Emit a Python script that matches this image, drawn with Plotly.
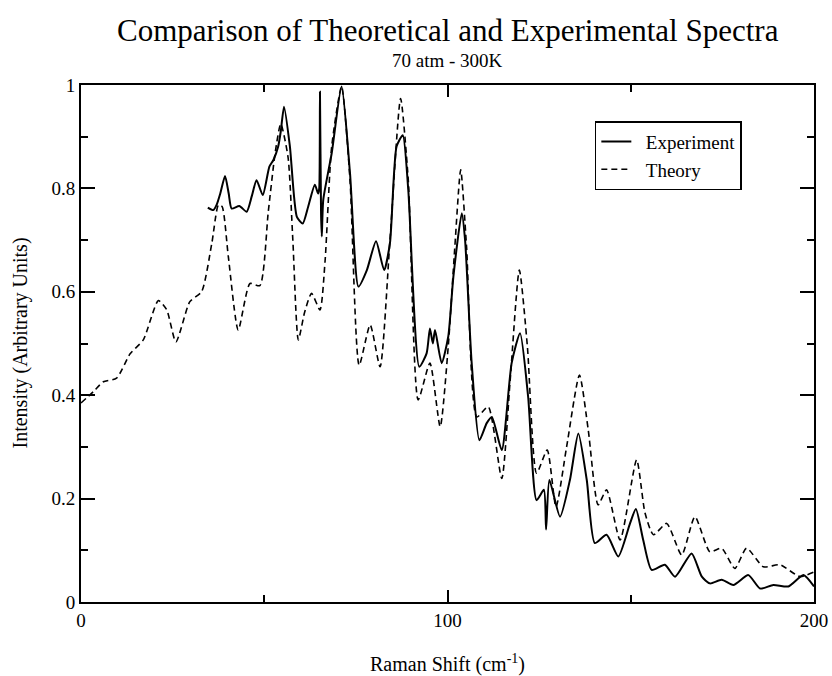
import plotly.graph_objects as go

# Raman shift (cm^-1) and intensity read for the two spectra
theory_x = [0, 3.4, 6.1, 9.7, 13.4, 17, 21.1, 23.4, 25.9, 29.7, 32.9, 35.7, 37.5, 38.5,
            40.2, 42.9, 46.1, 48.8, 51.1, 53.0, 54.5, 56.5, 57.8, 59.3, 61.0, 62.9, 65.2,
            66.6, 68.4, 71.1, 73.4, 75.9, 78.9, 81.6, 84.3, 87.2, 89.3, 92.0, 95.2, 98.0,
            100.2, 102.0, 103.6, 105.2, 108.0, 111.1, 114.8, 117.1, 119.6, 121.8, 124.3,
            127.2, 129.6, 132.5, 136.0, 138.4, 141.1, 143.4, 147.1, 151.6, 153.9, 156.2,
            159.8, 163.9, 167.5, 171.6, 174.8, 178.4, 181.6, 186.2, 190.7, 196.2, 200]
theory_y = [0.385, 0.407, 0.426, 0.433, 0.48, 0.507, 0.583, 0.565, 0.503, 0.581, 0.60, 0.694,
            0.768, 0.765, 0.668, 0.526, 0.616, 0.612, 0.755, 0.87, 0.925, 0.86, 0.70, 0.507,
            0.56, 0.597, 0.565, 0.66, 0.881, 0.997, 0.816, 0.458, 0.536, 0.455, 0.70, 0.974,
            0.816, 0.391, 0.462, 0.339, 0.494, 0.687, 0.836, 0.687, 0.358, 0.378, 0.239,
            0.429, 0.642, 0.494, 0.249, 0.294, 0.184, 0.30, 0.439, 0.333, 0.188, 0.217, 0.12,
            0.275, 0.172, 0.13, 0.152, 0.091, 0.165, 0.097, 0.104, 0.065, 0.104, 0.068,
            0.072, 0.049, 0.058]

exp_x = [34.6, 36.1, 37.0, 38.0, 39.3, 40.3, 41.1, 43.2, 45.2, 46.6, 47.9, 49.6, 51.4, 52.5,
         53.8, 54.5, 55.4, 57.0, 58.9, 60.5, 62.0, 63.8, 64.7, 65.0, 65.2, 65.5, 65.7, 66.1,
         68.4, 71.1, 73.4, 75.7, 78.0, 80.5, 82.7, 84.3, 86.1, 87.8, 89.3, 92.3, 94.3, 95.2,
         96.0, 96.6, 98.4, 100.2, 101.6, 103.9, 104.8, 106.6, 108.7, 110.7, 112.1, 114.8,
         117.5, 119.8, 122.0, 124.3, 126.3, 126.9, 127.8, 130.7, 133.4, 135.7, 138.0, 140.2,
         143.4, 146.6, 149.8, 151.4, 153.4, 155.7, 159.3, 162.1, 166.6, 169.4, 171.6, 174.8,
         178.0, 182.1, 185.3, 188.9, 193.0, 197.1, 200]
exp_y = [0.763, 0.758, 0.768, 0.79, 0.824, 0.79, 0.761, 0.766, 0.755, 0.785, 0.816, 0.787,
         0.842, 0.855, 0.881, 0.91, 0.958, 0.881, 0.745, 0.732, 0.765, 0.807, 0.79, 0.80,
         0.987, 0.75, 0.707, 0.778, 0.868, 0.997, 0.829, 0.61, 0.642, 0.698, 0.642, 0.694,
         0.881, 0.903, 0.797, 0.455, 0.481, 0.529, 0.50, 0.526, 0.462, 0.513, 0.629, 0.752,
         0.70, 0.462, 0.313, 0.346, 0.358, 0.294, 0.462, 0.52, 0.397, 0.197, 0.217, 0.14,
         0.236, 0.165, 0.236, 0.326, 0.236, 0.114, 0.13, 0.088, 0.152, 0.18, 0.12, 0.062,
         0.072, 0.049, 0.094, 0.049, 0.036, 0.043, 0.033, 0.052, 0.026, 0.033, 0.03, 0.052,
         0.03]

x_ticks = [0, 100, 200]
y_ticks = [0, 0.2, 0.4, 0.6, 0.8, 1]
y_tick_text = ["0", "0.2", "0.4", "0.6", "0.8", "1"]

FONT = "Liberation Serif"
PAD = "\u00a0\u00a0"  # small gap between legend line sample and its label

fig = go.Figure()
fig.add_trace(go.Scatter(
    x=exp_x, y=exp_y, name=PAD + "Experiment", mode="lines",
    line=dict(color="black", width=2, shape="spline", smoothing=0.6),
))
fig.add_trace(go.Scatter(
    x=theory_x, y=theory_y, name=PAD + "Theory", mode="lines",
    line=dict(color="black", width=1.6, dash="6px,4px", shape="spline", smoothing=0.6),
))

axis_common = dict(
    showline=True, linecolor="black", linewidth=2, mirror="allticks",
    ticks="inside", tickcolor="black", tickwidth=1.5,
    showgrid=False, zeroline=False, automargin=False,
    tickfont=dict(family=FONT, size=19, color="black"),
)

fig.update_xaxes(
    range=[0, 200], tickvals=x_ticks, ticklen=12,
    minor=dict(ticks="inside", dtick=50, ticklen=7, tickcolor="black", tickwidth=1.5,
               showgrid=False),
    **axis_common,
)
fig.update_yaxes(
    range=[0, 1], tickvals=y_ticks, ticktext=y_tick_text, ticklen=14,
    minor=dict(ticks="inside", dtick=0.1, ticklen=7, tickcolor="black", tickwidth=1.5,
               showgrid=False),
    **axis_common,
)

fig.update_layout(
    width=832, height=676,
    margin=dict(l=81, r=18, t=85, b=74, autoexpand=False),
    paper_bgcolor="white", plot_bgcolor="white",
    font=dict(family=FONT, color="black"),
    showlegend=True,
    legend=dict(
        x=0.701, y=0.93, xanchor="left", yanchor="top",
        bgcolor="white", bordercolor="black", borderwidth=1.5,
        font=dict(family=FONT, size=19, color="black"),
        itemwidth=30, tracegroupgap=0,
    ),
    annotations=[
        dict(text="Comparison of Theoretical and Experimental Spectra",
             xref="paper", yref="paper", x=0.5, y=1, yshift=55,
             xanchor="center", yanchor="middle", showarrow=False,
             font=dict(family=FONT, size=31, color="black")),
        dict(text="70 atm - 300K",
             xref="paper", yref="paper", x=0.5, y=1, yshift=25,
             xanchor="center", yanchor="middle", showarrow=False,
             font=dict(family=FONT, size=19, color="black")),
        dict(text="Raman Shift (cm<sup>-1</sup>)",
             xref="paper", yref="paper", x=0.5, y=0, yshift=-61,
             xanchor="center", yanchor="middle", showarrow=False,
             font=dict(family=FONT, size=20, color="black")),
        dict(text="Intensity (Arbitrary Units)",
             xref="paper", yref="paper", x=0, y=0.5, xshift=-61,
             xanchor="center", yanchor="middle", showarrow=False, textangle=-90,
             font=dict(family=FONT, size=20, color="black")),
    ],
)

fig.write_html("out.html")
